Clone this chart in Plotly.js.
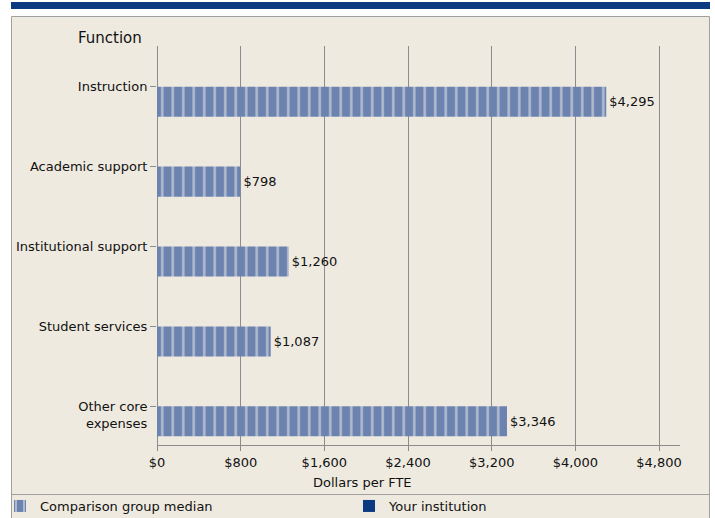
<!DOCTYPE html>
<html>
<head>
<meta charset="utf-8">
<script src="https://cdn.plot.ly/plotly-3.0.1.min.js"></script>
<style>
  html, body { margin: 0; padding: 0; background: #ffffff; }
  #chart { width: 715px; height: 518px; }
</style>
</head>
<body>
<div id="chart"></div>
<script>
// ---- data ----
var categories = ["Instruction", "Academic support", "Institutional support", "Student services", " <br>Other core<br>expenses"];
var comparisonMedian = [4295, 798, 1260, 1087, 3346];
var yourInstitution = [null, null, null, null, null];
var seriesNames = ["Comparison group median", "Your institution"];
var xTickVals = [0, 800, 1600, 2400, 3200, 4000, 4800];
var xTickText = xTickVals.map(function (v) { return "$" + v.toLocaleString("en-US"); });

// ---- geometry helpers (pixel -> paper) ----
var L = 157, R = 680, T = 46, B = 445, W = 715, H = 518;
function px(x) { return (x - L) / (R - L); }
function py(y) { return (B - y) / (B - T); }

var fontFam = "DejaVu Sans, Verdana, sans-serif";
var gridCol = "#8c8c8c";
var txtCol = "#111111";

var traces = [
  {
    type: "bar",
    orientation: "h",
    name: seriesNames[1],
    y: categories,
    x: yourInstitution,
    marker: { color: "#0b3a80" },
    legendrank: 2,
    hoverinfo: "skip"
  },
  {
    type: "bar",
    orientation: "h",
    name: seriesNames[0],
    y: categories,
    x: comparisonMedian,
    marker: {
      color: "#6c83b0",
      line: { width: 0 },
      pattern: { shape: "|", fgcolor: "#f3f1ec", bgcolor: "#6c83b0", size: 10.5, solidity: 0.25, fillmode: "overlay" }
    },
    text: comparisonMedian.map(function (v) { return "$" + v.toLocaleString("en-US"); }),
    textposition: "outside",
    textfont: { family: fontFam, size: 13, color: txtCol },
    cliponaxis: false,
    legendrank: 1,
    legendwidth: 304,
    hoverinfo: "skip"
  }
];

var layout = {
  width: W, height: H,
  margin: { l: L, r: W - R, t: T, b: H - B, pad: 0, autoexpand: false },
  paper_bgcolor: "#ffffff",
  plot_bgcolor: "rgba(0,0,0,0)",
  font: { family: fontFam, size: 13, color: txtCol },
  barmode: "group",
  bargap: 0.247,
  bargroupgap: 0,
  showlegend: true,
  legend: {
    orientation: "h",
    xref: "container", yref: "container",
    x: -1 / W, xanchor: "left",
    y: 1 - 506 / H, yanchor: "middle",
    bgcolor: "rgba(0,0,0,0)",
    borderwidth: 0,
    font: { family: fontFam, size: 13, color: txtCol },
    traceorder: "normal"
  },
  xaxis: {
    range: [0, 5000],
    tickmode: "array",
    tickvals: xTickVals,
    ticktext: xTickText,
    showgrid: true,
    gridcolor: gridCol,
    gridwidth: 1,
    zeroline: true,
    zerolinecolor: gridCol,
    zerolinewidth: 1,
    showline: true,
    linecolor: gridCol,
    linewidth: 1,
    ticks: "outside",
    ticklen: 5,
    tickcolor: gridCol,
    tickfont: { family: fontFam, size: 13, color: txtCol },
    automargin: false,
    fixedrange: true
  },
  yaxis: {
    type: "category",
    categoryorder: "array",
    categoryarray: categories,
    range: [4.485, -0.51],
    showgrid: false,
    zeroline: false,
    showline: false,
    ticks: "outside",
    ticklen: 6,
    tickcolor: gridCol,
    tickfont: { family: fontFam, size: 13, color: txtCol },
    automargin: false,
    fixedrange: true
  },
  shapes: [
    { type: "rect", xref: "paper", yref: "paper", layer: "below",
      x0: px(11.5), x1: px(709.5), y0: py(16.5), y1: py(530),
      fillcolor: "#eeeae0", line: { color: "#a0a0a0", width: 1 } },
    { type: "rect", xref: "paper", yref: "paper", layer: "below",
      x0: px(11), x1: px(710), y0: py(2), y1: py(9),
      fillcolor: "#0b3a80", line: { width: 0 } },
    { type: "line", xref: "paper", yref: "paper", layer: "below",
      x0: px(11.5), x1: px(709.5), y0: py(494.5), y1: py(494.5),
      line: { color: "#a0a0a0", width: 1 } }
  ],
  annotations: [
    { text: "Function", xref: "paper", yref: "paper", x: px(76), y: py(38),
      xanchor: "left", yanchor: "middle", showarrow: false,
      font: { family: fontFam, size: 15, color: txtCol } },
    { text: "Dollars per FTE", xref: "paper", yref: "paper", x: px(362), y: py(482),
      xanchor: "center", yanchor: "middle", showarrow: false,
      font: { family: fontFam, size: 13, color: txtCol } }
  ]
};

Plotly.newPlot("chart", traces, layout, { displayModeBar: false, staticPlot: true });
</script>
</body>
</html>
